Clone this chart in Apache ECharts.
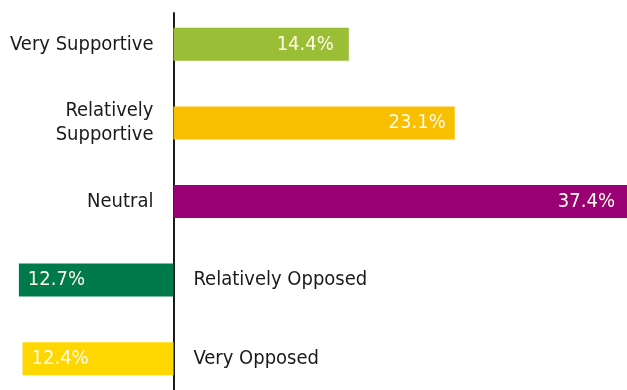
<!DOCTYPE html>
<html>
<head>
<meta charset="utf-8">
<script src="https://cdn.jsdelivr.net/npm/echarts@6/dist/echarts.min.js"></script>
<style>
  html, body { margin: 0; padding: 0; background: #fff; }
  #chart { width: 627px; height: 390px; }
</style>
</head>
<body>
<div id="chart"></div>
<script>
// categories top to bottom, opposed answers drawn to the left (negative)
const categories = ['Very Supportive', 'Relatively\nSupportive', 'Neutral', 'Relatively Opposed', 'Very Opposed']
const shares = [14.4, 23.1, 37.4, -12.7, -12.4]
const colors = ['#9bbe37', '#f8be00', '#990073', '#007a4a', '#ffd700']

const font = '"DejaVu Sans Condensed", "Liberation Sans Narrow", "Arial Narrow", sans-serif'

const chart = echarts.init(document.getElementById('chart'))

// label padding inside each bar end
const labelGap = [15, 9, 12, 9, 9]

const barData = shares.map((v, i) => ({
  value: v,
  itemStyle: { color: colors[i] },
  label: {
    position: v >= 0 ? 'insideRight' : 'insideLeft',
    distance: labelGap[i]
  }
}))

const nameData = shares.map(v => ({
  value: v,
  label: { position: v >= 0 ? 'left' : 'right' }
}))

chart.setOption({
  animation: false,
  grid: [
    { left: 0, right: 0, top: 5, height: 393, outerBoundsMode: 'none' },
    // second grid only carries the vertical zero line
    { left: 0, right: 0, top: 13, bottom: 0, outerBoundsMode: 'none' }
  ],
  xAxis: [
    { type: 'value', min: -14.25, max: 37.25, show: false, gridIndex: 0 },
    { type: 'value', min: -14.25, max: 37.25, gridIndex: 1,
      axisLine: { show: false }, axisTick: { show: false },
      axisLabel: { show: false }, splitLine: { show: false } }
  ],
  yAxis: [
    {
      type: 'category',
      data: categories,
      inverse: true,
      gridIndex: 0,
      axisLine: { show: false },
      axisTick: { show: false },
      axisLabel: { show: false }
    },
    {
      type: 'category',
      data: categories,
      gridIndex: 1,
      axisLine: { show: true, onZero: true, lineStyle: { color: '#1a1a1a', width: 2 } },
      axisTick: { show: false },
      axisLabel: { show: false }
    }
  ],
  series: [
    {
      type: 'bar',
      data: barData,
      barWidth: 33,
      barGap: '-100%',
      z: 2,
      label: {
        show: true,
        color: '#fffbe8',
        fontFamily: font,
        fontSize: 20,
        formatter: p => Math.abs(p.value).toFixed(1) + '%'
      }
    },
    {
      type: 'bar',
      data: nameData,
      barWidth: 33,
      barGap: '-100%',
      z: 1,
      itemStyle: { color: 'transparent' },
      label: {
        show: true,
        distance: 20,
        color: '#1a1a1a',
        fontFamily: font,
        fontSize: 20,
        lineHeight: 24,
        formatter: '{b}'
      }
    }
  ]
})

window.addEventListener('resize', () => chart.resize())
</script>
</body>
</html>
